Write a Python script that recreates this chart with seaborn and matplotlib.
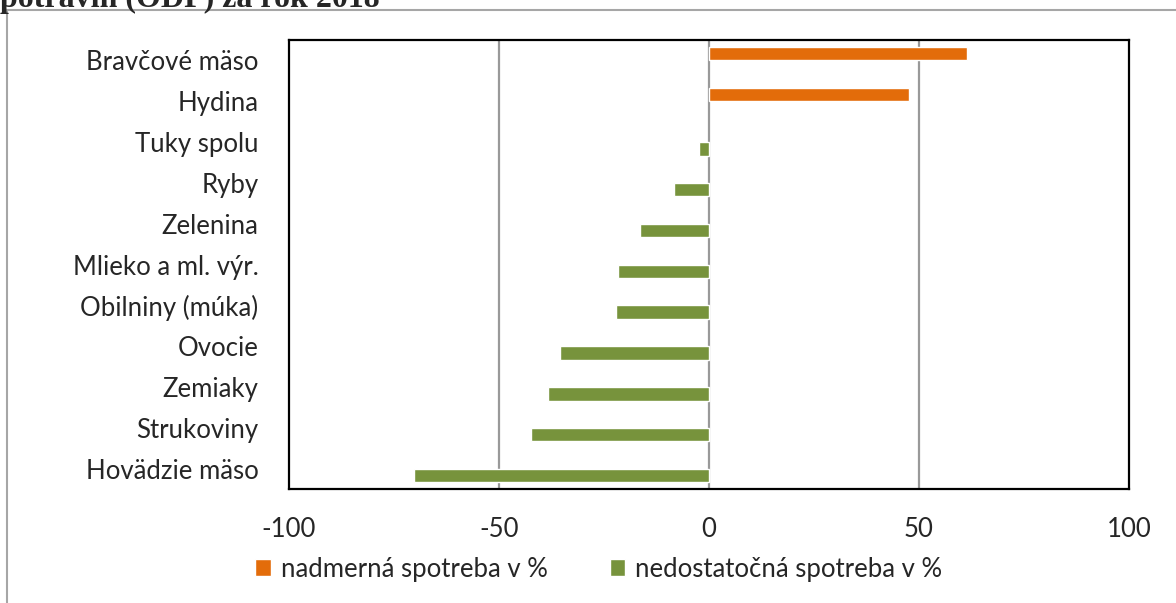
import pandas as pd
import numpy as np
import matplotlib
matplotlib.use('Agg')
import matplotlib.pyplot as plt
import matplotlib.patches as patches
import seaborn as sns

# kategorie a hodnoty (odčítané z grafu)
kategorie = ['Bravčové mäso', 'Hydina', 'Tuky spolu', 'Ryby', 'Zelenina',
             'Mlieko a ml. výr.', 'Obilniny (múka)', 'Ovocie', 'Zemiaky',
             'Strukoviny', 'Hovädzie mäso']
nadmerna = [61.5, 47.5, np.nan, np.nan, np.nan, np.nan, np.nan, np.nan, np.nan, np.nan, np.nan]
nedostatocna = [np.nan, np.nan, -2.3, -8.3, -16.4, -21.7, -22.1, -35.5, -38.3, -42.4, -70.2]
serie = ['nadmerná spotreba v %', 'nedostatočná spotreba v %']
farby = ['#e36c0a', '#77933c']
x_ticks = [-100, -50, 0, 50, 100]

df = pd.DataFrame({
    'kategoria': kategorie * 2,
    'hodnota': nadmerna + nedostatocna,
    'seria': [serie[0]] * len(kategorie) + [serie[1]] * len(kategorie),
})

sns.set_style('white')
plt.rcParams['font.family'] = ['Lato', 'DejaVu Sans']

fig = plt.figure(figsize=(11.76, 6.03), dpi=100)
ax = fig.add_axes([289 / 1176, 1 - 489 / 603, 840 / 1176, 449 / 603])

sns.barplot(data=df, y='kategoria', x='hodnota', hue='seria', hue_order=serie,
            palette=farby, orient='h', width=0.667, dodge=True, ax=ax,
            saturation=1, errorbar=None)

fs = 18.5
ax.set_xlim(-100, 100)
ax.set_xticks(x_ticks)
ax.set_xticklabels([str(t) for t in x_ticks], fontsize=fs)
ax.tick_params(axis='y', labelsize=fs, length=0, pad=22)
ax.tick_params(axis='x', length=0, pad=20)
ax.set_xlabel('')
ax.set_ylabel('')
for t in [-50, 0, 50]:
    ax.axvline(t, color='#999999', lw=1.6, zorder=0)
for s in ax.spines.values():
    s.set_visible(True)
    s.set_color('black')
    s.set_linewidth(1.6)

leg = ax.legend(loc='center', bbox_to_anchor=(599 / 1176, 1 - 569 / 603),
                bbox_transform=fig.transFigure, ncol=2, frameon=False,
                fontsize=fs, handlelength=0.6, handleheight=0.6, handletextpad=0.4,
                columnspacing=2.4, borderpad=0)

# orezaný nadpis nad grafom
fig.text(0.0, 1 - 7 / 603, 'potravín (ODP) za rok 2018', fontsize=23, fontweight='bold',
         family='Liberation Serif', va='baseline', ha='left')

# šedý rámik okolo grafu
fig.patches.append(patches.Rectangle((7 / 1176, -0.05), 1.2, 1 - 10 / 603 + 0.05,
                                     transform=fig.transFigure, fill=False,
                                     edgecolor='#a6a6a6', lw=1.5))

fig.savefig('out.png', dpi=100)
